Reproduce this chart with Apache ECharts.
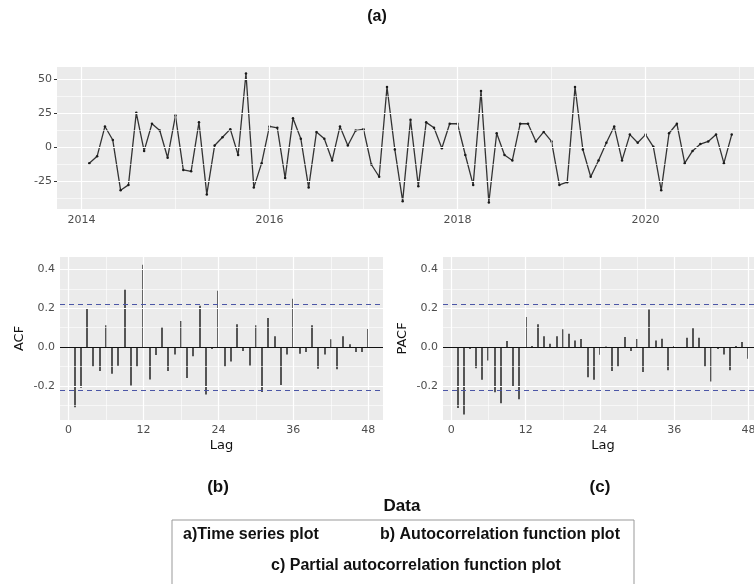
<!DOCTYPE html>
<html><head><meta charset="utf-8">
<script src="https://cdn.jsdelivr.net/npm/echarts@6/dist/echarts.min.js"></script>
<style>html,body{margin:0;padding:0;background:#fff}#c{width:754px;height:584px}</style>
</head><body><div id="c"></div>
<script>
// ---- Data ----
const tsStart = 2014 + 1 / 12; // monthly series starting Feb 2014
const tsValues = [-12,-7,15,5,-32,-28,25,-3,17,12,-8,23,-17,-18,18,-35,1,7,13,-6,
  54,-30,-12,15,14,-23,21,6,-30,11,6,-10,15,1,12,13,-13,-22,44,-2,
  -40,20,-29,18,14,-1,17,17,-6,-28,41,-41,10,-6,-10,17,17,4,11,4,
  -28,-26,44,-2,-22,-10,3,15,-10,9,3,9,0,-32,10,17,-12,-3,2,4,9,-12,9];
const tsYearTicks = [2014, 2016, 2018, 2020];
const tsYearMinor = [2015, 2017, 2019, 2021];
const tsValueTicks = [-25, 0, 25, 50];
const tsValueMinor = [-37.5, -12.5, 12.5, 37.5];

const lags = Array.from({length: 48}, (_, i) => i + 1);
const acfValues = [-0.31,-0.21,0.20,-0.10,-0.124,0.112,-0.138,-0.097,0.297,-0.198,
  -0.10,0.424,-0.167,-0.041,0.103,-0.124,-0.038,0.134,-0.16,-0.048,
  0.212,-0.245,-0.01,0.29,-0.10,-0.074,0.117,-0.021,-0.095,0.112,
  -0.231,0.15,0.055,-0.195,-0.038,0.248,-0.034,-0.026,0.112,-0.112,
  -0.038,0.04,-0.115,0.055,0.014,-0.026,-0.026,0.093];
const pacfValues = [-0.314,-0.348,-0.01,-0.109,-0.169,-0.069,-0.233,-0.29,0.031,-0.203,
  -0.269,0.155,0.005,0.117,0.055,0.017,0.055,0.091,0.069,0.034,
  0.041,-0.155,-0.169,-0.04,0.003,-0.124,-0.10,0.052,-0.021,0.041,
  -0.129,0.193,0.034,0.043,-0.12,0.005,-0.005,0.048,0.097,0.048,
  -0.10,-0.178,-0.01,-0.038,-0.12,0.005,0.026,-0.06];
const lagTicks = [0, 12, 24, 36, 48];
const lagMinor = [6, 18, 30, 42];
const corrTicks = [-0.2, 0, 0.2, 0.4];
const corrMinor = [-0.3, -0.1, 0.1, 0.3];
const ciBound = 0.2151;

// ---- Styles ----
const BG = '#ebebeb';
const LABEL = {color: '#4d4d4d', fontSize: 11, fontFamily: 'DejaVu Sans'};
const TICK = {show: true, length: 3, lineStyle: {color: '#333', width: 1}};

function gridLineData(xMajor, xMinor, yMajor, yMinor) {
  const d = [];
  const minor = {color: '#ffffff', width: 0.6, type: 'solid'};
  const major = {color: '#ffffff', width: 1.2, type: 'solid'};
  xMinor.forEach(v => d.push({xAxis: v, lineStyle: minor}));
  yMinor.forEach(v => d.push({yAxis: v, lineStyle: minor}));
  xMajor.forEach(v => d.push({xAxis: v, lineStyle: major}));
  yMajor.forEach(v => d.push({yAxis: v, lineStyle: major}));
  return d;
}
function lineMarks(idx, data, z) {
  return {type: 'line', xAxisIndex: idx, yAxisIndex: idx, data: [], z: z, silent: true,
    markLine: {silent: true, symbol: ['none', 'none'], label: {show: false}, animation: false,
      emphasis: {disabled: true}, data: data}};
}
function xAx(idx, min, max, ticks, margin, name) {
  return {type: 'value', gridIndex: idx, min: min, max: max,
    axisLine: {show: false}, splitLine: {show: false},
    axisTick: Object.assign({customValues: ticks}, TICK),
    axisLabel: Object.assign({customValues: ticks, margin: margin, formatter: v => String(v)}, LABEL),
    name: name || '', nameLocation: 'middle', nameGap: 19,
    nameTextStyle: {color: '#111', fontSize: 13, fontFamily: 'DejaVu Sans'}};
}
function yAx(idx, min, max, ticks, fmt, name) {
  return {type: 'value', gridIndex: idx, min: min, max: max,
    axisLine: {show: false}, splitLine: {show: false},
    axisTick: Object.assign({customValues: ticks}, TICK),
    axisLabel: Object.assign({customValues: ticks, margin: 5, formatter: fmt}, LABEL),
    name: name || '', nameLocation: 'middle', nameGap: 34,
    nameTextStyle: {color: '#111', fontSize: 13, fontFamily: 'DejaVu Sans'}};
}
function corrSeries(idx, vals) {
  return {type: 'custom', xAxisIndex: idx, yAxisIndex: idx, z: 3, silent: true, animation: false,
    data: vals.map((v, i) => [lags[i], v]),
    encode: {x: 0, y: 1},
    renderItem: function (params, api) {
      const p0 = api.coord([api.value(0), 0]);
      const p1 = api.coord([api.value(0), api.value(1)]);
      const x = Math.round(p0[0]) - 1;
      return {type: 'rect', shape: {x: x, y: Math.min(p0[1], p1[1]), width: 2, height: Math.abs(p1[1] - p0[1])},
        style: {fill: '#555555'}};
    }};
}
function corrLines(idx) {
  return lineMarks(idx, [
    {yAxis: 0, lineStyle: {color: '#111', width: 1, type: 'solid'}},
    {yAxis: ciBound, lineStyle: {color: '#4b56a6', width: 1.1, type: [5, 4]}},
    {yAxis: -ciBound, lineStyle: {color: '#4b56a6', width: 1.1, type: [5, 4]}}
  ], 4);
}
function txt(x, y, s, size, weight, align) {
  return {type: 'text', x: x, y: y, style: {text: s, fontSize: size, fontWeight: weight || 'normal',
    fontFamily: 'Liberation Sans', fill: '#111', align: align || 'center', verticalAlign: 'middle'}};
}

const corrFmt = v => v.toFixed(1);
const cMin = -0.3757, cMax = 0.4636;

const chart = echarts.init(document.getElementById('c'), null, {renderer: 'canvas'});
chart.setOption({
  animation: false,
  backgroundColor: '#ffffff',
  grid: [
    {left: 57, top: 67, width: 707, height: 142, show: true, backgroundColor: BG, borderWidth: 0, containLabel: false, outerBoundsMode: 'none'},
    {left: 60, top: 257, width: 323, height: 163, show: true, backgroundColor: BG, borderWidth: 0, containLabel: false, outerBoundsMode: 'none'},
    {left: 443, top: 257, width: 320, height: 163, show: true, backgroundColor: BG, borderWidth: 0, containLabel: false, outerBoundsMode: 'none'}
  ],
  xAxis: [
    xAx(0, 2013.74, 2021.26, tsYearTicks, 6),
    xAx(1, -1.35, 50.35, lagTicks, 5, 'Lag'),
    xAx(2, -1.35, 50.35, lagTicks, 5, 'Lag')
  ],
  yAxis: [
    yAx(0, -45.75, 58.75, tsValueTicks, v => String(v)),
    yAx(1, cMin, cMax, corrTicks, corrFmt, 'ACF'),
    yAx(2, cMin, cMax, corrTicks, corrFmt, 'PACF')
  ],
  series: [
    lineMarks(0, gridLineData(tsYearTicks, tsYearMinor, tsValueTicks, tsValueMinor), 1),
    lineMarks(1, gridLineData(lagTicks, lagMinor, corrTicks, corrMinor), 1),
    lineMarks(2, gridLineData(lagTicks, lagMinor, corrTicks, corrMinor), 1),
    {type: 'line', xAxisIndex: 0, yAxisIndex: 0, z: 3, silent: true,
      data: tsValues.map((v, i) => [tsStart + i / 12, v]),
      symbol: 'circle', symbolSize: 2.5, showSymbol: true,
      lineStyle: {color: '#333333', width: 1.3},
      itemStyle: {color: '#1a1a1a'}},
    corrSeries(1, acfValues),
    corrSeries(2, pacfValues),
    corrLines(1),
    corrLines(2)
  ],
  graphic: [
    txt(377, 17, '(a)', 16, 'bold'),
    txt(218, 487, '(b)', 17, 'bold'),
    txt(600, 487, '(c)', 17, 'bold'),
    txt(402, 506, 'Data', 17, 'bold'),
    {type: 'rect', shape: {x: 172, y: 520, width: 462, height: 80},
      style: {fill: 'none', stroke: '#999', lineWidth: 1}},
    txt(183, 535, 'a)Time series plot', 16, 'bold', 'left'),
    txt(380, 535, 'b) Autocorrelation function plot', 16, 'bold', 'left'),
    txt(416, 566, 'c) Partial autocorrelation function plot', 16, 'bold')
  ]
});
</script></body></html>
